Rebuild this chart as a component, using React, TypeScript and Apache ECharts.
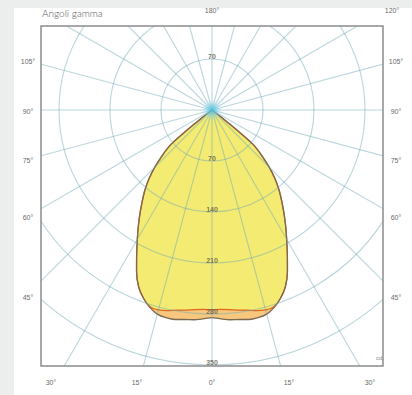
import React, { useEffect, useRef } from "react";
import * as echarts from "echarts";

// gamma angles (deg from the downward vertical) and intensities (cd/klm)
const gammaAngles = [0, 2.5, 5, 7.5, 10, 12.5, 15, 17.5, 20, 22.5, 25, 27.5, 30, 32.5, 35, 37.5, 40, 42.5, 45, 47.5, 50, 51, 52, 53];
const planeA = [285, 287, 289, 290, 292, 292, 290, 284, 275, 263, 245, 224, 205, 188, 172, 157, 143, 128, 111, 93, 74, 50, 20, 0];
const planeB = [274, 274, 275, 277, 279, 282, 284, 283, 275, 263, 245, 224, 205, 188, 172, 157, 143, 128, 111, 93, 74, 50, 20, 0];

// radial scale labels
const radiusTicks = [70, 140, 210, 280, 350];
const topRadiusTicks = [70];

// gamma labels around the frame
const sideLabels = ["105°", "90°", "75°", "60°", "45°"];
const sideLabelY = [61, 111, 160, 217, 297];
const bottomLabels = ["30°", "15°", "0°", "15°", "30°"];
const bottomLabelX = [51, 137, 212, 289, 370];
const topLabels = ["180°", "120°"];
const topLabelX = [212, 392];

const CX = 212;
const CY = 110;
const BOX = { x: 41, y: 26, w: 342, h: 340 };

function mirror(vals: number[]) {
  const out: number[][] = [];
  for (let i = vals.length - 1; i > 0; i--) out.push([vals[i], -gammaAngles[i]]);
  for (let i = 0; i < vals.length; i++) out.push([vals[i], gammaAngles[i]]);
  return out;
}

export default function App() {
  const ref = useRef<HTMLDivElement>(null);
  useEffect(() => {
    document.body.style.margin = "0";
    const chart = echarts.init(ref.current!, null, { renderer: "svg" });
    const gridColor = "rgba(110,170,182,0.48)";
    const smallFont = { fontSize: 7, fill: "#6a6a6a", fontFamily: "Liberation Sans" };
    const graphics: any[] = [
      { type: "rect", shape: { x: 0, y: 0, width: 412, height: 8 }, style: { fill: "#eceeed" }, z: 100 },
      { type: "rect", shape: { x: 0, y: 0, width: 14, height: 395 }, style: { fill: "#eceeed" }, z: 100 },
      { type: "rect", shape: { x: 14, y: 8, width: 398, height: BOX.y - 8 }, style: { fill: "#ffffff" }, z: 100 },
      { type: "rect", shape: { x: 14, y: 8, width: BOX.x - 14, height: 387 }, style: { fill: "#ffffff" }, z: 100 },
      { type: "rect", shape: { x: BOX.x + BOX.w, y: 8, width: 412 - BOX.x - BOX.w, height: 387 }, style: { fill: "#ffffff" }, z: 100 },
      { type: "rect", shape: { x: 14, y: BOX.y + BOX.h, width: 398, height: 395 - BOX.y - BOX.h }, style: { fill: "#ffffff" }, z: 100 },
      { type: "rect", shape: { x: BOX.x, y: BOX.y, width: BOX.w, height: BOX.h }, style: { fill: "none", stroke: "#8c8c8c", lineWidth: 1.5 }, z: 101 },
      {
        type: "circle",
        shape: { cx: CX, cy: CY, r: 11 },
        style: {
          fill: new echarts.graphic.RadialGradient(0.5, 0.5, 0.5, [
            { offset: 0, color: "rgba(60,190,225,0.9)" },
            { offset: 0.5, color: "rgba(120,210,235,0.45)" },
            { offset: 1, color: "rgba(160,225,240,0)" },
          ]),
        },
        z: 50,
      },
      { type: "text", x: 42, y: 8, style: { text: "Angoli gamma", fontSize: 10, fill: "#555555", fontFamily: "Lato", fontWeight: 300 }, z: 102 },
      { type: "text", x: 376, y: 355, style: { text: "cd", fontSize: 6, fill: "#8a8a8a", fontFamily: "Liberation Sans" }, z: 102 },
    ];
    topLabels.forEach((t, i) => {
      graphics.push({ type: "text", x: topLabelX[i], y: 10, style: { ...smallFont, text: t, align: "center", verticalAlign: "middle" }, z: 102 });
    });
    sideLabels.forEach((t, i) => {
      graphics.push({ type: "text", x: 28, y: sideLabelY[i], style: { ...smallFont, text: t, align: "center", verticalAlign: "middle" }, z: 102 });
      graphics.push({ type: "text", x: 396, y: sideLabelY[i], style: { ...smallFont, text: t, align: "center", verticalAlign: "middle" }, z: 102 });
    });
    bottomLabels.forEach((t, i) => {
      graphics.push({ type: "text", x: bottomLabelX[i], y: 382, style: { ...smallFont, text: t, align: "center", verticalAlign: "middle" }, z: 102 });
    });

    const labelData = [
      ...radiusTicks.map((r) => [r, 0]),
      ...topRadiusTicks.map((r) => [r, 180]),
    ];

    chart.setOption({
      animation: false,
      backgroundColor: "#ffffff",
      polar: [
        { center: [CX, CY], radius: 255 },
        { center: [CX, CY], radius: 312 },
      ],
      angleAxis: [
        { polarIndex: 0, type: "value", min: -180, max: 180, startAngle: 90, clockwise: true, show: false },
        {
          polarIndex: 1,
          type: "value",
          min: -180,
          max: 180,
          interval: 15,
          startAngle: 90,
          clockwise: true,
          z: 5,
          axisLine: { show: false },
          axisTick: { show: false },
          axisLabel: { show: false },
          splitLine: { show: true, lineStyle: { color: gridColor, width: 1.1 } },
        },
      ],
      radiusAxis: [
        {
          polarIndex: 0,
          type: "value",
          min: 0,
          max: 350,
          interval: 70,
          z: 5,
          axisLine: { show: false },
          axisTick: { show: false },
          axisLabel: { show: false },
          splitLine: { show: true, lineStyle: { color: gridColor, width: 1.1 } },
        },
        { polarIndex: 1, type: "value", min: 0, max: 1, show: false, splitLine: { show: false } },
      ],
      series: [
        {
          type: "line",
          coordinateSystem: "polar",
          polarIndex: 0,
          data: mirror(planeA),
          symbol: "none",
          smooth: 0.25,
          lineStyle: { width: 0 },
          areaStyle: { color: "#f6c77c", opacity: 1 },
          z: 2,
        },
        {
          type: "line",
          coordinateSystem: "polar",
          polarIndex: 0,
          data: mirror(planeB),
          symbol: "none",
          smooth: 0.25,
          lineStyle: { color: "#e0661e", width: 1.3 },
          areaStyle: { color: "#f4eb72", opacity: 1 },
          z: 3,
        },
        {
          type: "line",
          coordinateSystem: "polar",
          polarIndex: 0,
          data: mirror(planeA),
          symbol: "none",
          smooth: 0.25,
          lineStyle: { color: "#7a6a50", width: 1.3 },
          z: 4,
        },
        {
          type: "scatter",
          coordinateSystem: "polar",
          polarIndex: 0,
          data: labelData,
          symbolSize: 2,
          itemStyle: { color: "rgba(0,0,0,0)" },
          label: {
            show: true,
            position: "inside",
            offset: [0, -3],
            formatter: (p: any) => String(p.value[0]),
            fontSize: 7,
            fontWeight: "bold",
            color: "#5e5a48",
            fontFamily: "Liberation Sans",
          },
          z: 10,
        },
      ],
      graphic: graphics,
    });
    return () => chart.dispose();
  }, []);
  return <div ref={ref} style={{ width: 412, height: 395, position: "absolute", left: 0, top: 0 }} />;
}
